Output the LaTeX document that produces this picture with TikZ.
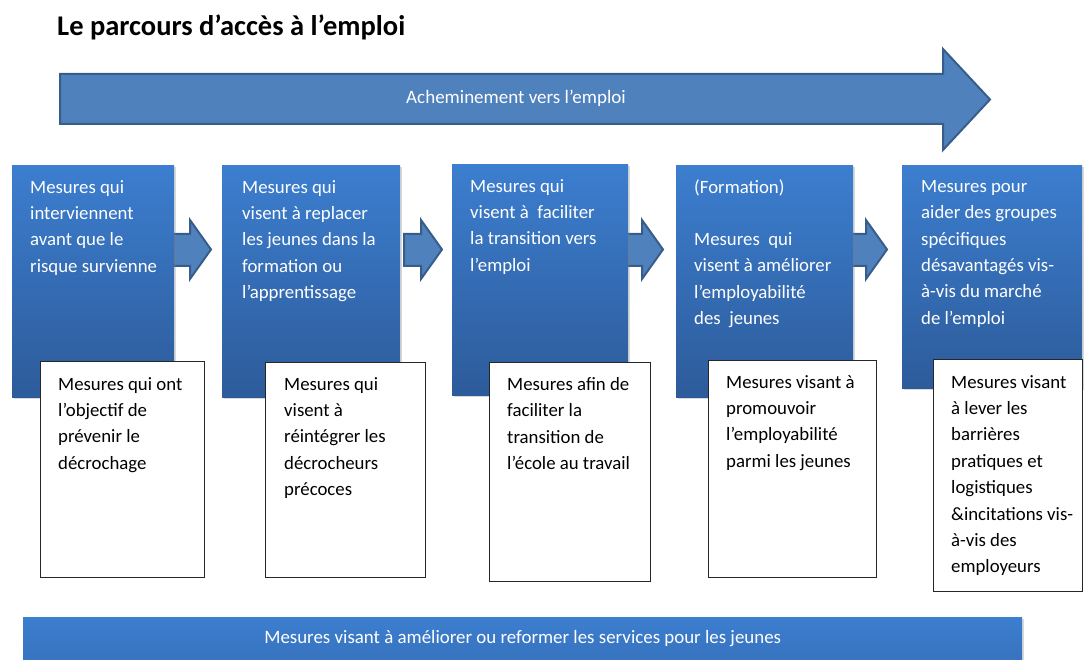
\documentclass[tikz,border=0pt]{standalone}
\usepackage{fontspec}
\setmainfont{Carlito}
\usepackage{xcolor}
\usetikzlibrary{positioning,shadows,calc}
\definecolor{boxtop}{RGB}{60,126,207}
\definecolor{boxbottom}{RGB}{45,91,154}
\definecolor{arrowfill}{RGB}{79,129,189}
\definecolor{arrowline}{RGB}{56,93,138}

\begin{document}
\begin{tikzpicture}[x=1pt,y=-1pt]
        \tikzstyle{bluebox}=[anchor=north west, inner sep=0pt, top color=boxtop, bottom color=boxbottom, drop shadow={opacity=0.3, shadow xshift=2pt, shadow yshift=-2pt}]
        \tikzstyle{whitebox}=[anchor=north west, inner sep=0pt, draw=black!85, line width=1pt, fill=white]
        \tikzstyle{boxtext}=[anchor=north west, inner sep=0pt, align=left, font=\fontsize{18.8}{26.4}\selectfont]
        \tikzstyle{blockarrow}=[fill=arrowfill, draw=arrowline, line width=2pt, line join=miter]
        \useasboundingbox (0,0) rectangle (1084,660);

        % Title
        \node (title)[anchor=base west, inner sep=0pt, font=\bfseries\fontsize{28.5}{32}\selectfont] at (57,36) {Le parcours d’accès à l’emploi};

        % Big arrow along the top
        \draw[blockarrow] (60,74) -- (943,74) -- (943,49) -- (990,99.5) -- (943,150) -- (943,124) -- (60,124) -- cycle;
        \node (route)[text=white, font=\fontsize{19}{22}\selectfont] at (516,98) {Acheminement vers l’emploi};

        % Small arrows between the steps
        \foreach \xa in {173,404,625,849} {
            \draw[blockarrow] (\xa,234) -- (\xa+17,234) -- (\xa+17,220) -- (\xa+38,249.5) -- (\xa+17,279) -- (\xa+17,266) -- (\xa,266) -- cycle;
        }

        % Blue steps
        \node (m1)[bluebox, minimum width=162pt, minimum height=232pt] at (12,165) {};
        \node (m2)[bluebox, minimum width=178pt, minimum height=232pt] at (222,165) {};
        \node (m3)[bluebox, minimum width=176pt, minimum height=231pt] at (452,164) {};
        \node (m4)[bluebox, minimum width=177pt, minimum height=232pt] at (676,165) {};
        \node (m5)[bluebox, minimum width=180pt, minimum height=223pt] at (902,165) {};

        \node (t1)[boxtext, text=white, below right=15pt and 18pt of m1.north west] {Mesures qui\\interviennent\\avant que le\\risque survienne};
        \node (t2)[boxtext, text=white, below right=15pt and 20pt of m2.north west] {Mesures qui\\visent à replacer\\les jeunes dans la\\formation ou\\l’apprentissage};
        \node (t3)[boxtext, text=white, below right=15pt and 18pt of m3.north west] {Mesures qui\\visent à~ faciliter\\la transition vers\\l’emploi};
        \node (t4)[boxtext, text=white, below right=15pt and 18pt of m4.north west] {(Formation)\\[25pt]Mesures~ qui\\visent à améliorer\\l’employabilité\\des~ jeunes};
        \node (t5)[boxtext, text=white, below right=15pt and 19pt of m5.north west] {Mesures pour\\aider des groupes\\spécifiques\\désavantagés vis-\\à-vis du marché\\de l’emploi};

        % White boxes below
        \node (w1)[whitebox, minimum width=164pt, minimum height=216pt] at (40,361) {};
        \node (w2)[whitebox, minimum width=160pt, minimum height=215pt] at (265,362) {};
        \node (w3)[whitebox, minimum width=161pt, minimum height=219pt] at (489,362) {};
        \node (w4)[whitebox, minimum width=168pt, minimum height=217pt] at (708,360) {};
        \node (w5)[whitebox, minimum width=149pt, minimum height=232pt] at (933,359) {};

        \node (s1)[boxtext, below right=16pt and 18pt of w1.north west] {Mesures qui ont\\l’objectif de\\prévenir le\\décrochage};
        \node (s2)[boxtext, below right=15pt and 19pt of w2.north west] {Mesures qui\\visent à\\réintégrer les\\décrocheurs\\précoces};
        \node (s3)[boxtext, below right=15pt and 18pt of w3.north west] {Mesures afin de\\faciliter la\\transition de\\l’école au travail};
        \node (s4)[boxtext, below right=15pt and 18pt of w4.north west] {Mesures visant à\\promouvoir\\l’employabilité\\parmi les jeunes};
        \node (s5)[boxtext, below right=16pt and 18pt of w5.north west] {Mesures visant\\à lever les\\barrières\\pratiques et\\logistiques\\\&incitations vis-\\à-vis des\\employeurs};

        % Bottom bar
        \node (services)[bluebox, minimum width=999pt, minimum height=43pt, bottom color=boxtop!70!boxbottom, text=white, font=\fontsize{18.9}{22}\selectfont] at (23,617) {Mesures visant à améliorer ou reformer les services pour les jeunes};
\end{tikzpicture}
\end{document}
